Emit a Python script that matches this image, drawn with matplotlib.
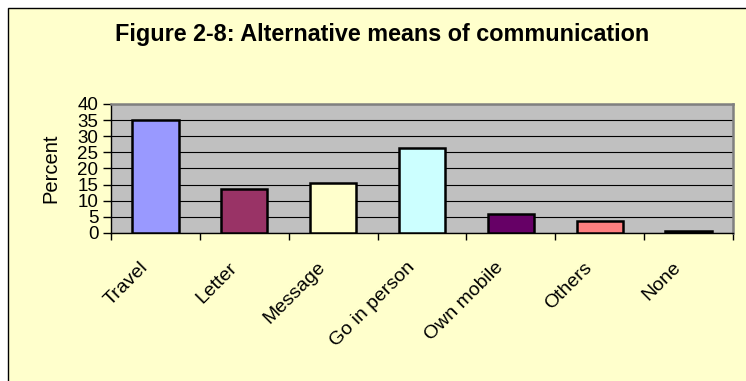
import matplotlib
matplotlib.use("Agg")
import matplotlib.pyplot as plt
import matplotlib.transforms as mtransforms
from matplotlib.patches import Rectangle
import numpy as np

categories = ["Travel", "Letter", "Message", "Go in person", "Own mobile", "Others", "None"]
values = [35.0, 13.6, 15.4, 26.4, 5.8, 3.6, 0.6]
colors = ["#9999FF", "#993366", "#FFFFCC", "#CCFFFF", "#660066", "#FF8080", "#0066CC"]
yticks = [0, 5, 10, 15, 20, 25, 30, 35, 40]
title = "Figure 2-8: Alternative means of communication"

W, H = 746, 381
fig = plt.figure(figsize=(W / 100, H / 100), dpi=100)
fig.patch.set_facecolor("white")
# outer chart frame
frame = Rectangle((8 / W, -0.1), 1.2, (H - 8) / H + 0.1, transform=fig.transFigure,
                  facecolor="#FFFFCC", edgecolor="black", linewidth=1.0, zorder=-10)
fig.add_artist(frame)

left, right, top, bottom = 111, 733, 104, 233
ax = fig.add_axes([left / W, 1 - bottom / H, (right - left) / W, (bottom - top) / H])
ax.set_zorder(5)
ax.set_facecolor("#C0C0C0")
x = np.arange(len(categories))
ax.bar(x, values, width=0.52, color=colors, edgecolor="black", linewidth=1.8, zorder=3)
ax.set_xlim(-0.5, len(categories) - 0.5)
ax.set_ylim(0, 40)
ax.set_yticks(yticks)
ax.set_yticklabels([str(v) for v in yticks], fontsize=13.5, family="Liberation Sans")
ax.yaxis.grid(True, color="black", linewidth=0.8, zorder=1)
ax.set_axisbelow(True)
ax.set_xticks(np.arange(len(categories) + 1) - 0.5)
ax.set_xticklabels([])

# category labels, rotated 45 degrees below each bar
base = mtransforms.blended_transform_factory(ax.transData, ax.transAxes)
offset = mtransforms.ScaledTranslation(-16 / 100, -26 / 100, fig.dpi_scale_trans)
for xi, cat in zip(x, categories):
    ax.text(xi, 0, cat, transform=base + offset, rotation=45, ha="right", va="top",
            rotation_mode="anchor", fontsize=14, family="Liberation Sans", clip_on=False)

ax.tick_params(axis="x", which="major", length=5, width=1, direction="out")
ax.tick_params(axis="y", length=6, width=1, direction="out", pad=3)
for s in ["top", "right"]:
    ax.spines[s].set_color("#808080")
    ax.spines[s].set_linewidth(1.8)
ax.spines["left"].set_color("black")
ax.spines["bottom"].set_color("black")
ax.spines["left"].set_linewidth(1)
ax.spines["bottom"].set_linewidth(1)
ax.set_ylabel("Percent", fontsize=14.5, family="Liberation Sans", labelpad=12)

fig.text(382 / W, 1 - 35 / H, title, ha="center", va="center", fontsize=16.8,
         fontweight="bold", family="Liberation Sans")

fig.savefig("out.png", dpi=100, facecolor=fig.get_facecolor())
